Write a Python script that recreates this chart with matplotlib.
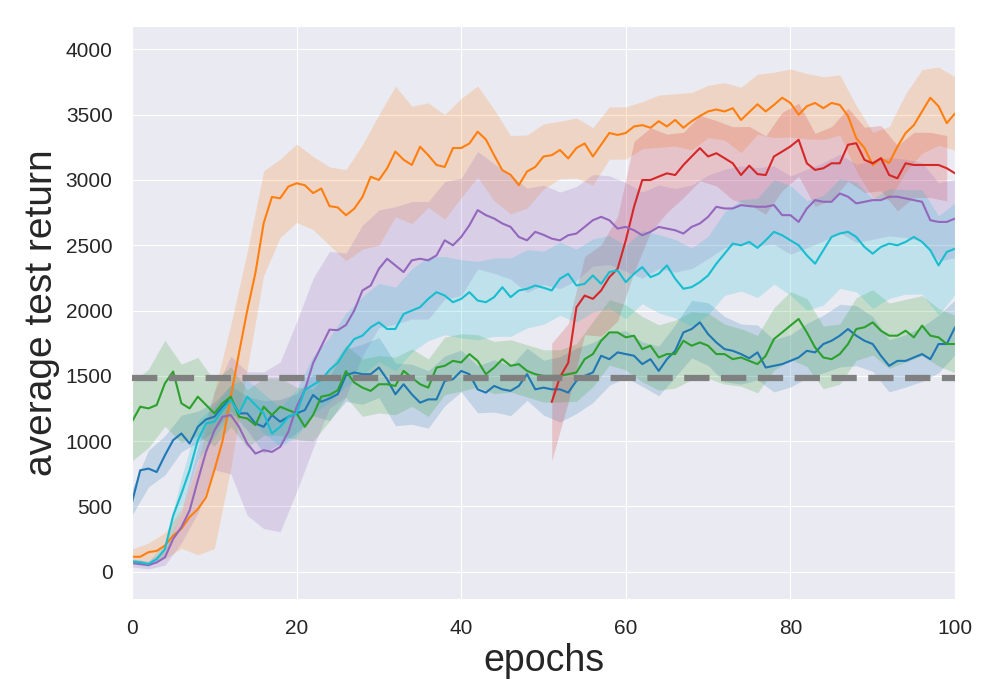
import numpy as np
import matplotlib.pyplot as plt
import seaborn as sns

sns.set_style("darkgrid")
plt.rcParams['font.family'] = ['Liberation Sans', 'DejaVu Sans']

epochs = np.arange(101)
red_epochs = np.arange(51, 101)

# mean test return per epoch
blue = [533, 777, 790, 764, 892, 1008, 1059, 982, 1110, 1167,
        1187, 1264, 1328, 1213, 1213, 1136, 1110, 1200, 1149, 1187,
        1213, 1238, 1354, 1302, 1328, 1360, 1505, 1526, 1513, 1513,
        1564, 1474, 1359, 1436, 1359, 1295, 1320, 1320, 1462, 1474,
        1538, 1513, 1397, 1372, 1423, 1397, 1385, 1423, 1513, 1397,
        1410, 1397, 1397, 1372, 1462, 1500, 1526, 1654, 1628, 1680,
        1667, 1654, 1590, 1628, 1538, 1628, 1692, 1833, 1859, 1910,
        1820, 1756, 1705, 1692, 1667, 1635, 1680, 1564, 1577, 1590,
        1615, 1641, 1692, 1680, 1744, 1769, 1808, 1859, 1808, 1769,
        1744, 1654, 1577, 1615, 1615, 1641, 1667, 1628, 1744, 1744,
        1872]
orange = [115, 115, 150, 160, 200, 277, 330, 420, 480, 570,
          777, 1000, 1340, 1675, 2000, 2290, 2670, 2870, 2860, 2950,
          2975, 2960, 2900, 2935, 2800, 2790, 2730, 2780, 2870, 3025,
          3000, 3090, 3218, 3155, 3115, 3255, 3190, 3115, 3100, 3245,
          3245, 3280, 3370, 3310, 3190, 3075, 3040, 2960, 3065, 3100,
          3180, 3190, 3230, 3165, 3245, 3280, 3180, 3270, 3360, 3345,
          3360, 3410, 3420, 3400, 3450, 3410, 3460, 3400, 3450, 3490,
          3525, 3540, 3525, 3550, 3460, 3520, 3580, 3525, 3575, 3630,
          3590, 3500, 3565, 3590, 3550, 3590, 3575, 3490, 3320, 3245,
          3115, 3165, 3130, 3255, 3360, 3420, 3525, 3630, 3565, 3435,
          3510]
green = [1149, 1264, 1251, 1277, 1443, 1533, 1290, 1251, 1341, 1277,
         1213, 1290, 1341, 1187, 1174, 1123, 1264, 1200, 1264, 1238,
         1213, 1110, 1200, 1341, 1354, 1390, 1536, 1449, 1410, 1385,
         1436, 1436, 1423, 1538, 1487, 1436, 1410, 1564, 1577, 1615,
         1603, 1667, 1615, 1513, 1564, 1628, 1577, 1590, 1538, 1513,
         1500, 1500, 1500, 1513, 1526, 1628, 1667, 1769, 1833, 1833,
         1795, 1808, 1705, 1731, 1641, 1667, 1667, 1769, 1731, 1756,
         1731, 1667, 1667, 1628, 1641, 1615, 1590, 1654, 1782, 1833,
         1885, 1936, 1833, 1718, 1641, 1628, 1667, 1744, 1859, 1872,
         1910, 1846, 1808, 1808, 1846, 1795, 1885, 1808, 1795, 1744,
         1744]
red = [1300, 1490, 1600, 2025, 2115, 2090, 2154, 2256, 2320,
       2538, 2795, 3000, 3000, 3026, 3051, 3038, 3115, 3180, 3244,
       3180, 3205, 3167, 3128, 3038, 3110, 3045, 3038, 3180, 3218,
       3257, 3308, 3128, 3077, 3090, 3128, 3128, 3270, 3282, 3154,
       3128, 3167, 3038, 3013, 3128, 3115, 3115, 3115, 3115, 3090,
       3051]
purple = [67, 59, 51, 72, 110, 251, 341, 470, 700, 920,
          1080, 1187, 1200, 1110, 982, 905, 931, 918, 956, 1072,
          1264, 1392, 1597, 1726, 1854, 1850, 1890, 2000, 2154, 2192,
          2320, 2397, 2346, 2295, 2385, 2397, 2385, 2423, 2538, 2500,
          2564, 2654, 2769, 2731, 2705, 2667, 2641, 2564, 2538, 2603,
          2580, 2551, 2538, 2577, 2590, 2641, 2692, 2718, 2692, 2628,
          2641, 2615, 2577, 2603, 2641, 2628, 2615, 2590, 2641, 2667,
          2718, 2795, 2782, 2782, 2808, 2800, 2795, 2795, 2808, 2731,
          2731, 2679, 2782, 2846, 2833, 2833, 2897, 2872, 2821, 2833,
          2846, 2846, 2872, 2872, 2859, 2846, 2833, 2692, 2679, 2679,
          2705]
cyan = [80, 72, 60, 97, 174, 430, 597, 777, 1008, 1136,
        1149, 1238, 1315, 1213, 1341, 1277, 1213, 1059, 1110, 1187,
        1213, 1392, 1431, 1469, 1546, 1600, 1700, 1782, 1808, 1872,
        1910, 1859, 1859, 1974, 2000, 2026, 2090, 2141, 2115, 2064,
        2090, 2141, 2077, 2064, 2103, 2179, 2103, 2154, 2167, 2192,
        2175, 2154, 2244, 2282, 2192, 2205, 2269, 2205, 2295, 2308,
        2218, 2282, 2333, 2256, 2282, 2346, 2244, 2167, 2180, 2218,
        2269, 2359, 2436, 2513, 2500, 2526, 2480, 2538, 2603, 2577,
        2538, 2500, 2423, 2359, 2462, 2564, 2590, 2603, 2564, 2487,
        2436, 2487, 2513, 2500, 2526, 2564, 2526, 2462, 2346, 2449,
        2474]

# spread of the shaded bands, every second epoch
blue_std = [100, 140, 150, 140, 120, 110, 100, 130, 200, 170,
            150, 160, 170, 200, 230, 230, 240, 230, 220, 190,
            160, 180, 200, 190, 200, 210, 250, 250, 230, 200,
            180, 170, 190, 200, 220, 240, 250, 230, 210, 200,
            200, 210, 220, 240, 230, 210, 200, 200, 210, 220,
            210]
orange_std = [60, 70, 100, 150, 350, 600, 550, 450, 400, 300,
              300, 280, 300, 350, 400, 500, 500, 450, 400, 400,
              380, 350, 350, 300, 280, 250, 220, 230, 220, 200,
              200, 180, 200, 200, 220, 200, 220, 250, 230, 250,
              260, 250, 240, 230, 250, 250, 280, 300, 320, 300,
              280]
green_std = [300, 300, 330, 300, 300, 250, 230, 220, 220, 220,
             200, 200, 200, 200, 220, 220, 220, 220, 220, 220,
             220, 200, 200, 200, 200, 200, 200, 220, 250, 250,
             250, 250, 250, 260, 260, 250, 230, 220, 220, 240,
             260, 260, 240, 230, 240, 250, 250, 240, 230, 220,
             220]
red_std = [450, 300, 300, 350, 400, 500, 400, 300, 250, 250,
           250, 280, 300, 300, 300, 280, 280, 280, 280, 250,
           250, 250, 250, 250, 250]
purple_std = [30, 30, 60, 120, 250, 300, 450, 550, 600, 650,
              650, 650, 600, 550, 500, 450, 450, 450, 450, 450,
              450, 450, 420, 400, 400, 380, 370, 360, 350, 340,
              340, 330, 320, 320, 320, 320, 300, 300, 300, 300,
              300, 300, 300, 300, 300, 300, 300, 300, 300, 300,
              300]
cyan_std = [20, 20, 50, 120, 150, 120, 120, 130, 150, 150,
            180, 220, 250, 280, 300, 300, 320, 320, 320, 300,
            300, 300, 300, 300, 300, 280, 280, 280, 280, 280,
            280, 280, 300, 300, 300, 300, 320, 350, 380, 400,
            420, 420, 420, 420, 420, 420, 420, 400, 400, 380,
            350]

baseline = 1480

series = [
    (epochs, blue, blue_std, "tab:blue"),
    (epochs, orange, orange_std, "tab:orange"),
    (epochs, green, green_std, "tab:green"),
    (red_epochs, red, red_std, "tab:red"),
    (epochs, purple, purple_std, "tab:purple"),
    (epochs, cyan, cyan_std, "tab:cyan"),
]

fig = plt.figure(figsize=(10, 7), dpi=100)
ax = fig.add_axes([0.132, 0.144, 0.823, 0.819])

for x, mean, std, color in series:
    m = np.array(mean, dtype=float)
    s = np.array(std, dtype=float)
    ax.fill_between(x[::2], m[::2] - s, m[::2] + s, color=color, alpha=0.2, linewidth=0)
    ax.plot(x, m, color=color, linewidth=1.5)

ax.axhline(baseline, color="gray", linewidth=4.5, dashes=(4.05, 1.84), zorder=5)

ax.set_xlim(0, 100)
ax.set_ylim(-210, 4180)
ax.set_xticks(range(0, 101, 20))
ax.set_yticks(range(0, 4001, 500))
ax.tick_params(labelsize=15, pad=10.5)
ax.set_xlabel("epochs", fontsize=27)
ax.set_ylabel("average test return", fontsize=28)

fig.savefig("out.png")
